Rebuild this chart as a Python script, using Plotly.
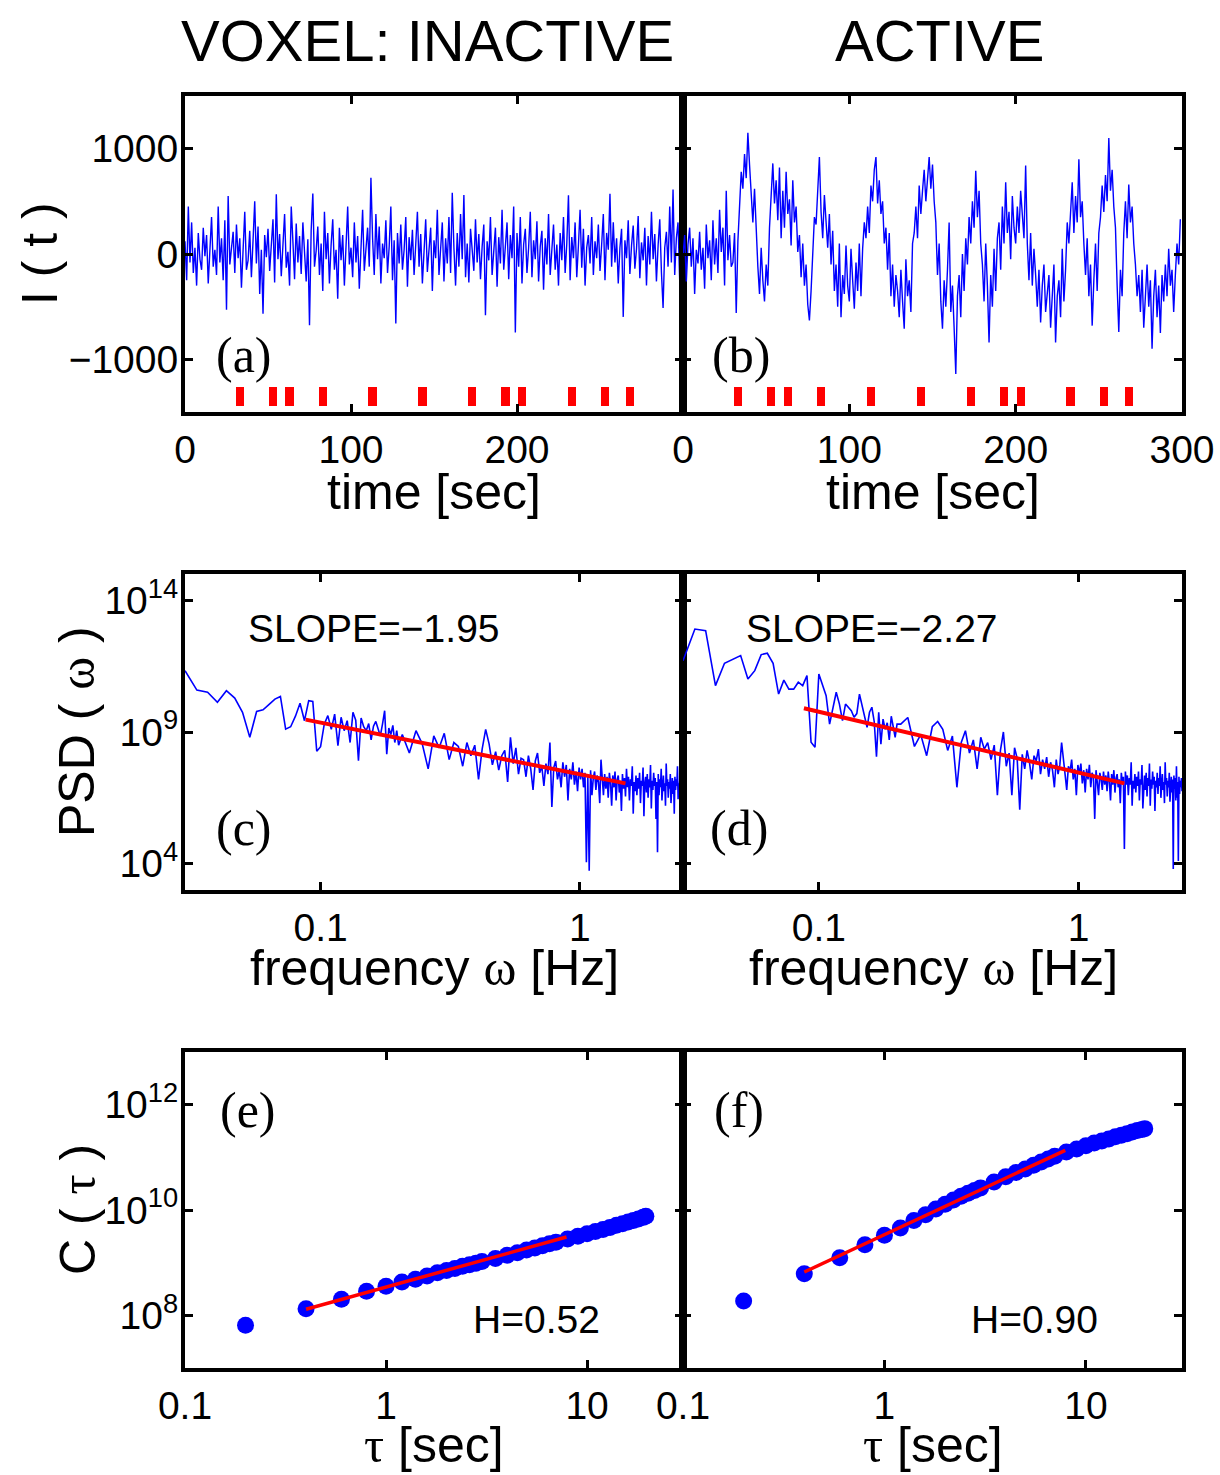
import plotly.graph_objects as go

W, H = 1220, 1475
FONT = "Liberation Sans"
SERIF = "Liberation Serif"
BLUE = "#0000ff"
RED = "#ff0000"

# ---------------- data ----------------
time_sec = list(range(300))  # sampling grid, 1 s

bold_inactive = [
    120, -250, 450, -80, 300, -180, 60, -300, 200, -50,
    -150, 250, -20, 180, -280, 90, 350, -120, 40, -200,
    450, -80, 150, -250, 320, -528, 550, -100, 60, 210,
    -180, 280, -40, 150, -320, 100, 400, -150, -60, 220,
    -220, 130, 500, -90, 260, -380, 40, -566, 180, -30,
    240, -160, 80, 330, -270, 566, -50, 190, -210, 60,
    380, -130, 20, -300, 450, 120, -240, 290, -80, 170,
    -190, 300, 50, -260, 140, -676, 220, 575, -120, 30,
    260, -200, 100, -350, 400, -50, 200, -280, 80, 330,
    -150, 40, -425, 250, -60, 180, -300, 120, 450, -100,
    60, -220, 300, -80, 170, -330, 90, 420, -160, 30,
    250, -120, 723, 150, -200, 380, -50, 260, -280, 100,
    -40, 320, -180, 70, 450, -250, 130, -660, 200, -90,
    280, -150, 40, 350, -310, 160, -60, 230, -200, 90,
    400, -120, 190, -280, 60, 330, -170, 20, 250, -350,
    130, -40, 420, -200, 80, 300, -260, 150, -90, 350,
    -180, 582, 60, -300, 200, -120, 380, -50, 560, -220,
    100, -270, 240, 40, -160, 330, -80, 190, -240, 70,
    280, -582, 120, -60, 350, -200, 40, 250, -310, 160,
    -90, 420, -150, 60, 300, -240, 180, -40, 450, -745,
    200, -120, 350, -280, 90, 240, -180, 60, 400, -220,
    130, -50, 310, -260, 70, 220, -340, 150, -100, 380,
    -200, 40, 280, -150, 90, -300, 200, -60, 350, -180,
    100, 557, -250, 160, -40, 300, -220, 80, 420, -130,
    240, -300, 60, 180, -90, 350, -200, 120, -40, 280,
    -160, 90, 380, -250, 200, 40, 572, -120, 300, -80,
    150, -280, 60, 240, -597, 130, -40, 320, -190, 80,
    270, -140, 50, 360, -230, 110, -60, 250, -300, 170,
    -100, 400, -50, 190, -260, 80, 330, -170, -513, 60,
    210, -120, 450, -80, 613, -200, 150, 300, -250, 100,
]

bold_active = [
    -20, 180, -260, 90, 250, -120, 150, -380, 40, -90,
    210, -150, 60, -330, 280, -40, 130, -250, 320, -100,
    150, -180, 420, 20, 250, -300, 600, -60, 180, -120,
    -80, 200, -560, 120, 450, 780, 620, 950, 720, 1150,
    850, 560, 300, 620, 180, -120, -380, 60, -250, -450,
    -100, -300, 250, 520, 860, 480, 700, 320, 820, 150,
    600, 250, 780, 380, 520, 80, 700, 300, 450, 20,
    180, -220, 100, -300, -100, -480, -630, -350, 50, 350,
    280, 620, 920, 400, 150, 560, 300, 60, 380, -100,
    220, -350, -100, -500, 100, -600, -200, -380, 80, -300,
    -450, 50, -250, -520, -80, -350, 100, -400, 50, 300,
    150, 450, 200, 650, 500, 800, 920, 480, 700, 380,
    500, 100, 250, -150, 200, -400, -100, -500, -200, -350,
    -600, -150, -450, -710, -50, -400, -250, -550, 100, 200,
    450, 150, 650, 380, 600, 800, 500, 750, 920, 620,
    850, 500, 300, -200, 100, -450, -710, -250, -500, -150,
    300, -550, -300, -700, -1140, -400, -200, -600, 0, -350,
    150, -100, 350, 100, 500, 250, 790, 350, 600, 100,
    -100, -450, 100, -300, -840, -200, -500, 50, -350, 150,
    300, -150, 450, 100, 680, 200, 400, -50, 550, 250,
    100, 450, 200, 600, 350, 150, 840, 100, -250, 200,
    -300, 50, -200, -500, -150, -650, -300, -100, -550, -400,
    -200, -700, -350, -100, -840, -400, -250, -600, 50, -450,
    -150, 300, 100, 450, 680, 200, 550, 300, 900, 350,
    500, 100, -200, 150, -400, -100, -680, -250, 100, -350,
    200, 350, 650, 400, 750, 500, 1100, 600, 800, 450,
    250, -300, -740, -150, -400, 200, 500, 150, 660, 300,
    450, 100, -100, -400, -200, -550, -150, -700, -350, -100,
    -500, -250, -900, -400, -150, -600, -300, -750, -200, -450,
    -100, -400, 50, -300, -150, -550, -200, 100, -100, 330,
]

stim_onsets = [33, 53, 63, 83, 113, 143, 173, 193, 203, 233, 253, 268]
stim_base = -1440
stim_height = 180
stim_width = 5

# spectral bins (k / 300 Hz): every bin at low f, every 4th bin above
psd_bins = list(range(9, 61)) + list(range(62, 751, 4))
psd_freq = [k / 300 for k in psd_bins]

psd_log_inactive = [
    11.33, 10.59, 10.51, 10.13, 10.57, 10.29, 9.75, 8.80, 9.78, 9.84,
    10.05, 10.25, 10.35, 9.11, 9.20, 9.60, 10.09, 9.43, 10.19, 10.16,
    8.27, 8.44, 9.30, 9.62, 9.10, 9.68, 8.48, 9.56, 9.05, 9.43,
    8.60, 9.75, 9.45, 7.91, 9.53, 9.20, 9.05, 9.32, 8.70, 9.22,
    9.40, 9.11, 8.85, 9.30, 9.81, 8.16, 9.15, 8.90, 9.25, 8.60,
    9.05, 8.50,
    8.90, 8.20, 9.05, 8.55, 7.60, 8.85, 8.40, 8.95, 7.95, 8.60,
    8.45, 7.70, 8.60, 8.10, 8.50, 7.20, 8.35, 9.10, 8.55, 7.75,
    8.25, 7.55, 8.10, 8.30, 7.10, 8.80, 7.80, 8.40, 7.40, 8.00,
    7.95, 7.30, 8.10, 7.60, 6.80, 7.90, 8.20, 7.45, 7.70, 6.95,
    7.80, 7.40, 8.60, 6.15, 7.65, 7.90, 7.20, 7.55, 6.90, 7.85,
    7.30, 7.75, 6.40, 7.60, 7.20, 7.85, 7.00, 7.50, 6.75, 7.65,
    7.20, 7.60, 6.90, 7.45, 4.05, 7.30, 3.73, 7.55, 6.60, 7.25,
    7.50, 6.80, 7.35, 7.10, 6.30, 7.95, 7.00, 6.60, 7.40, 6.85,
    7.30, 6.50, 7.45, 7.05, 6.20, 7.35, 6.90, 7.50, 6.40, 7.20,
    7.35, 6.70, 7.15, 6.00, 7.40, 6.85, 7.25, 6.55, 7.60, 6.90,
    7.30, 6.40, 7.20, 6.95, 7.70, 5.90, 7.10, 6.75, 7.35, 6.60,
    7.25, 6.85, 7.45, 6.30, 7.15, 6.95, 7.65, 5.80, 7.05, 7.30,
    6.70, 7.40, 6.50, 7.20, 6.90, 7.75, 6.10, 7.15, 6.80, 7.45,
    6.95, 7.25, 5.70, 7.10, 4.43, 7.40, 6.60, 7.20, 6.90, 7.60,
    6.40, 7.15, 7.35, 6.75, 7.05, 6.20, 7.80, 6.95, 7.20, 6.50,
    7.10, 6.85, 7.40, 6.30, 7.00, 7.25, 6.65, 7.15, 5.90, 7.30,
    6.80, 7.20, 6.95, 7.70, 6.45, 7.05, 6.90, 7.25, 6.60, 7.10,
    6.85, 7.20, 6.70,
]

psd_log_active = [
    11.71, 12.91, 12.85, 10.76, 11.61, 11.77, 11.90, 11.01, 11.33, 11.94,
    11.99, 11.61, 10.44, 10.97, 10.63, 10.63, 10.89, 10.76, 11.14, 8.61,
    8.42, 11.20, 10.82, 10.38, 9.30, 9.94, 10.51, 10.06, 9.43, 10.06,
    9.94, 9.81, 9.56, 9.70, 10.44, 10.00, 9.60, 9.18, 9.75, 9.94,
    9.40, 8.06, 9.75, 8.54, 9.49, 9.10, 9.35, 8.70, 9.60, 9.20,
    8.80, 9.30,
    9.30, 9.55, 8.45, 8.90, 8.10, 9.20, 9.40, 9.10, 8.30, 8.85,
    6.90, 8.60, 9.05, 8.20, 8.70, 7.60, 8.80, 8.35, 8.60, 7.95,
    8.50, 6.60, 8.30, 9.00, 7.70, 8.20, 6.60, 8.40, 8.00, 6.05,
    8.15, 7.60, 8.30, 7.85, 7.20, 8.10, 7.90, 8.35, 7.40, 7.95,
    7.60, 8.05, 7.30, 7.85, 7.55, 6.90, 7.95, 7.40, 7.75, 8.60,
    7.85, 7.40, 6.80, 7.70, 7.50, 7.95, 7.20, 7.60, 6.60, 7.75,
    7.40, 7.80, 7.05, 7.55, 6.70, 7.60, 7.20, 7.75, 6.90, 7.45,
    7.30, 5.70, 7.55, 7.10, 6.60, 7.45, 7.20, 6.80, 7.50, 7.00,
    7.35, 6.75, 7.50, 7.10, 6.40, 7.40, 7.00, 7.55, 6.70, 7.25,
    7.40, 6.90, 7.20, 6.30, 7.45, 7.05, 7.30, 4.56, 7.50, 7.00,
    7.35, 6.60, 7.25, 7.00, 7.85, 6.20, 7.15, 6.85, 7.40, 6.70,
    7.30, 6.95, 7.50, 6.40, 7.20, 7.00, 7.75, 6.10, 7.10, 7.35,
    6.80, 7.45, 6.55, 7.25, 6.95, 7.80, 6.20, 7.20, 6.85, 7.50,
    7.00, 7.30, 6.00, 7.15, 6.90, 7.45, 6.65, 7.25, 6.95, 7.70,
    6.50, 7.20, 7.40, 6.80, 7.10, 6.30, 7.85, 7.00, 7.25, 6.55,
    7.15, 6.90, 7.45, 6.35, 7.05, 7.30, 6.70, 7.20, 3.80, 7.35,
    6.85, 7.25, 6.40, 7.70, 6.50, 7.10, 4.10, 7.30, 6.65, 7.15,
    6.90, 7.25, 6.75,
]

fit_freq = [0.0876, 1.5]
fit_psd_log_inactive = [9.47, 7.05]
fit_psd_log_active = [9.90, 7.05]
slope_labels = ["SLOPE=\u22121.95", "SLOPE=\u22122.27"]

tau_sec = [0.2, 0.4, 0.6, 0.8, 1.0, 1.2, 1.4, 1.6, 1.8, 2.0, 2.2, 2.4, 2.6, 2.8, 3.0,
           3.5, 4.0, 4.5, 5.0, 5.5, 6.0, 6.5, 7.0,
           8, 9, 10, 11, 12, 13, 14, 15, 16, 17, 18, 19, 19.6]
c_log_inactive = [7.81, 8.126, 8.305, 8.456, 8.551, 8.633, 8.684, 8.747, 8.81, 8.85,
                  8.89, 8.93, 8.96, 8.99, 9.02,
                  9.08, 9.14, 9.19, 9.24, 9.28, 9.32, 9.36, 9.39,
                  9.45, 9.50, 9.55, 9.59, 9.63, 9.67, 9.71, 9.74, 9.77, 9.80, 9.83, 9.86, 9.88]
c_log_active = [8.27, 8.79, 9.095, 9.34, 9.52, 9.66, 9.80, 9.91, 10.02, 10.11,
                10.19, 10.26, 10.32, 10.37, 10.42,
                10.53, 10.63, 10.71, 10.78, 10.85, 10.91, 10.97, 11.02,
                11.10, 11.16, 11.22, 11.27, 11.31, 11.35, 11.39, 11.42, 11.45, 11.48, 11.51, 11.53, 11.545]
fit_tau = [0.4, 7.9]
fit_c_log_inactive = [8.115, 9.487]
fit_c_log_active = [8.823, 11.133]
hurst_labels = ["H=0.52", "H=0.90"]

column_titles = ["VOXEL: INACTIVE", "ACTIVE"]
panel_letters = ["(a)", "(b)", "(c)", "(d)", "(e)", "(f)"]

# ---------------- figure ----------------
fig = go.Figure()

def pow10(vals):
    return [10 ** v for v in vals]

# row 1: time series
for series, ax in [(bold_inactive, 1), (bold_active, 2)]:
    xs, ys = ("x" if ax == 1 else f"x{ax}"), ("y" if ax == 1 else f"y{ax}")
    fig.add_trace(go.Bar(x=stim_onsets, y=[stim_height] * len(stim_onsets), base=stim_base,
                         width=stim_width, marker=dict(color=RED, line_width=0),
                         xaxis=xs, yaxis=ys))
    fig.add_trace(go.Scatter(x=time_sec, y=series, mode="lines",
                             line=dict(color=BLUE, width=1.4), xaxis=xs, yaxis=ys))

# row 2: PSD
for series, fit, ax in [(psd_log_inactive, fit_psd_log_inactive, 3), (psd_log_active, fit_psd_log_active, 4)]:
    fig.add_trace(go.Scatter(x=psd_freq, y=pow10(series), mode="lines",
                             line=dict(color=BLUE, width=1.6), xaxis=f"x{ax}", yaxis=f"y{ax}"))
    fig.add_trace(go.Scatter(x=fit_freq, y=pow10(fit), mode="lines",
                             line=dict(color=RED, width=4), xaxis=f"x{ax}", yaxis=f"y{ax}"))

# row 3: C(tau)
for series, fit, ax in [(c_log_inactive, fit_c_log_inactive, 5), (c_log_active, fit_c_log_active, 6)]:
    fig.add_trace(go.Scatter(x=tau_sec, y=pow10(series), mode="markers",
                             marker=dict(color=BLUE, size=17, line_width=0),
                             xaxis=f"x{ax}", yaxis=f"y{ax}"))
    fig.add_trace(go.Scatter(x=fit_tau, y=pow10(fit), mode="lines",
                             line=dict(color=RED, width=3.5), xaxis=f"x{ax}", yaxis=f"y{ax}"))

# ---------------- axes ----------------
col_px = [(185, 683), (683, 1182)]
row_px = [(96, 412), (574, 890), (1052, 1368)]

def xdom(c):
    a, b = col_px[c]
    return [a / W, b / W]

def ydom(r):
    t, b = row_px[r]
    return [1 - b / H, 1 - t / H]

common = dict(showline=True, linecolor="black", linewidth=4, mirror="ticks",
              ticks="inside", ticklen=8, tickwidth=3, tickcolor="black",
              showgrid=False, zeroline=False, automargin=False,
              tickfont=dict(family=FONT, size=39, color="black"))

layout_axes = {}
for r in range(3):
    for c in range(2):
        n = r * 2 + c + 1
        xa = dict(common, domain=xdom(c), anchor=("y" if n == 1 else f"y{n}"), ticklabelstandoff=0)
        ya = dict(common, domain=ydom(r), anchor=("x" if n == 1 else f"x{n}"), ticklabelstandoff=-5)
        if r == 0:
            xa.update(range=[0, 300], tickvals=[0, 100, 200, 300],
                      ticktext=["0", "100", "200", " " if c == 0 else "300"])
            ya.update(range=[-1500, 1500], tickvals=[-1000, 0, 1000],
                      ticktext=["\u22121000", "0", "1000"])
        elif r == 1:
            xa.update(type="log", range=[-1.5229, 0.3979], tickvals=[0.1, 1], ticktext=["0.1", "1"])
            ya.update(type="log", range=[3, 15], tickvals=[1e4, 1e9, 1e14],
                      ticktext=["10<sup>4</sup>", "10<sup>9</sup>", "10<sup>14</sup>"])
        else:
            xa.update(type="log", range=[-1, 1.4771], tickvals=[0.1, 1, 10], ticktext=["0.1", "1", "10"])
            ya.update(type="log", range=[7, 13], tickvals=[1e8, 1e10, 1e12],
                      ticktext=["10<sup>8</sup>", "10<sup>10</sup>", "10<sup>12</sup>"])
        if c == 1:
            ya.update(showticklabels=False)
        layout_axes["xaxis" if n == 1 else f"xaxis{n}"] = xa
        layout_axes["yaxis" if n == 1 else f"yaxis{n}"] = ya

# ---------------- annotations ----------------
def ann(text, x, y, size, family=FONT, angle=0, xanchor="center"):
    return dict(text=text, x=x / W, y=1 - y / H, xref="paper", yref="paper",
                showarrow=False, textangle=angle, xanchor=xanchor, yanchor="middle",
                font=dict(family=family, size=size, color="black"))

def serif(t):
    return f'<span style="font-family:{SERIF}">{t}</span>'

annotations = [
    ann(column_titles[0], 427, 40, 58),
    ann(column_titles[1], 940, 40, 58),
    ann("I ( t )", 40, 254, 50, angle=-90),
    ann("PSD ( " + serif("\u03c9") + " )", 77, 732, 50, angle=-90),
    ann("C ( " + serif("\u03c4") + " )", 78, 1210, 50, angle=-90),
]
for cx in (434, 933):
    annotations.append(ann("time [sec]", cx, 492, 50))
    annotations.append(ann("frequency " + serif("\u03c9") + " [Hz]", cx, 968, 50))
    annotations.append(ann(serif("\u03c4") + " [sec]", cx, 1445, 50))

letter_pos = [(244, 355), (741, 355), (244, 828), (739, 828), (248, 1110), (739, 1110)]
for lab, (lx, ly) in zip(panel_letters, letter_pos):
    annotations.append(ann(lab, lx, ly, 50, family=SERIF))

annotations.append(ann(slope_labels[0], 246, 629, 39, xanchor="left"))
annotations.append(ann(slope_labels[1], 744, 629, 39, xanchor="left"))
annotations.append(ann(hurst_labels[0], 471, 1319, 39, xanchor="left"))
annotations.append(ann(hurst_labels[1], 969, 1319, 39, xanchor="left"))

fig.update_layout(
    width=W, height=H, margin=dict(l=0, r=0, t=0, b=0, pad=0, autoexpand=False),
    paper_bgcolor="white", plot_bgcolor="white",
    showlegend=False, bargap=0,
    annotations=annotations,
    **layout_axes,
)

fig.write_html("out.html", config={"displayModeBar": False},
               post_script="document.body.style.margin='0';document.body.style.overflow='hidden';")
